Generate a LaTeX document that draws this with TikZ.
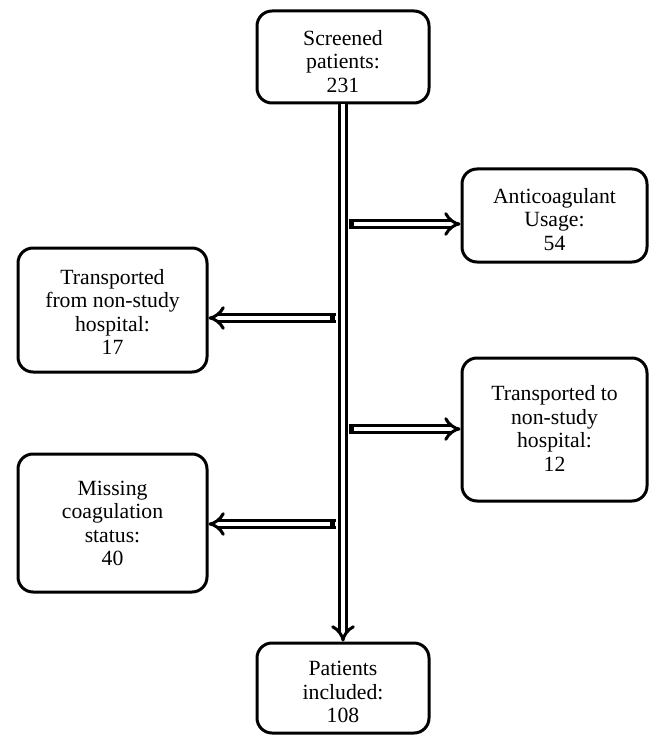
\documentclass[tikz,border=0pt]{standalone}
\usepackage{fontspec}
\setmainfont{Liberation Serif}
\usetikzlibrary{arrows.meta}
\begin{document}
\begin{tikzpicture}[x=1pt,y=-1pt,
  box/.style={draw, line width=3pt, rounded corners=15pt, inner sep=0pt},
  lbl/.style={anchor=base, align=center, inner sep=0pt, font=\fontsize{21.7}{23.5}\selectfont},
  dbl/.style={line width=3pt, double=white, double distance=4.8pt, -{Implies}},
  tail/.style={fill=black, inner sep=0pt, minimum width=5.5pt, minimum height=10.8pt}]
\useasboundingbox (0,0) rectangle (651,735);
% boxes
\node[box, minimum width=172pt, minimum height=92pt] (top) at (343,57) {};
\node[box, minimum width=185pt, minimum height=93pt] (anti) at (554.5,215.5) {};
\node[box, minimum width=189pt, minimum height=124pt] (from) at (112.5,310) {};
\node[box, minimum width=185pt, minimum height=143pt] (to) at (554.5,429.5) {};
\node[box, minimum width=189pt, minimum height=138pt] (miss) at (112.5,523) {};
\node[box, minimum width=172pt, minimum height=90pt] (bot) at (343,688) {};
% texts (anchor at baseline of last line)
\node[lbl] (ttop) at (343,92.5) {Screened\\patients:\\231};
\node[lbl] (tanti) at (554.5,250) {Anticoagulant\\Usage:\\54};
\node[lbl] (tfrom) at (112.5,354.5) {Transported\\from non-study\\hospital:\\17};
\node[lbl] (tto) at (554.5,471) {Transported to\\non-study\\hospital:\\12};
\node[lbl] (tmiss) at (112.5,565.5) {Missing\\coagulation\\status:\\40};
\node[lbl] (tbot) at (343,722.5) {Patients\\included:\\108};
% main vertical arrow
\draw[dbl] (top.south) -- (bot.north);
% side arrows
\coordinate (s1) at (348.5,224);
\coordinate (s2) at (335.5,318);
\coordinate (s3) at (348.5,429);
\coordinate (s4) at (335.5,524);
\draw[dbl] (s1) -- (s1 -| anti.west);
\draw[dbl] (s2) -- (s2 -| from.east);
\draw[dbl] (s3) -- (s3 -| to.west);
\draw[dbl] (s4) -- (s4 -| miss.east);
\node[tail, anchor=west] (q1) at (s1) {};
\node[tail, anchor=east] (q2) at (s2) {};
\node[tail, anchor=west] (q3) at (s3) {};
\node[tail, anchor=east] (q4) at (s4) {};
\end{tikzpicture}
\end{document}
